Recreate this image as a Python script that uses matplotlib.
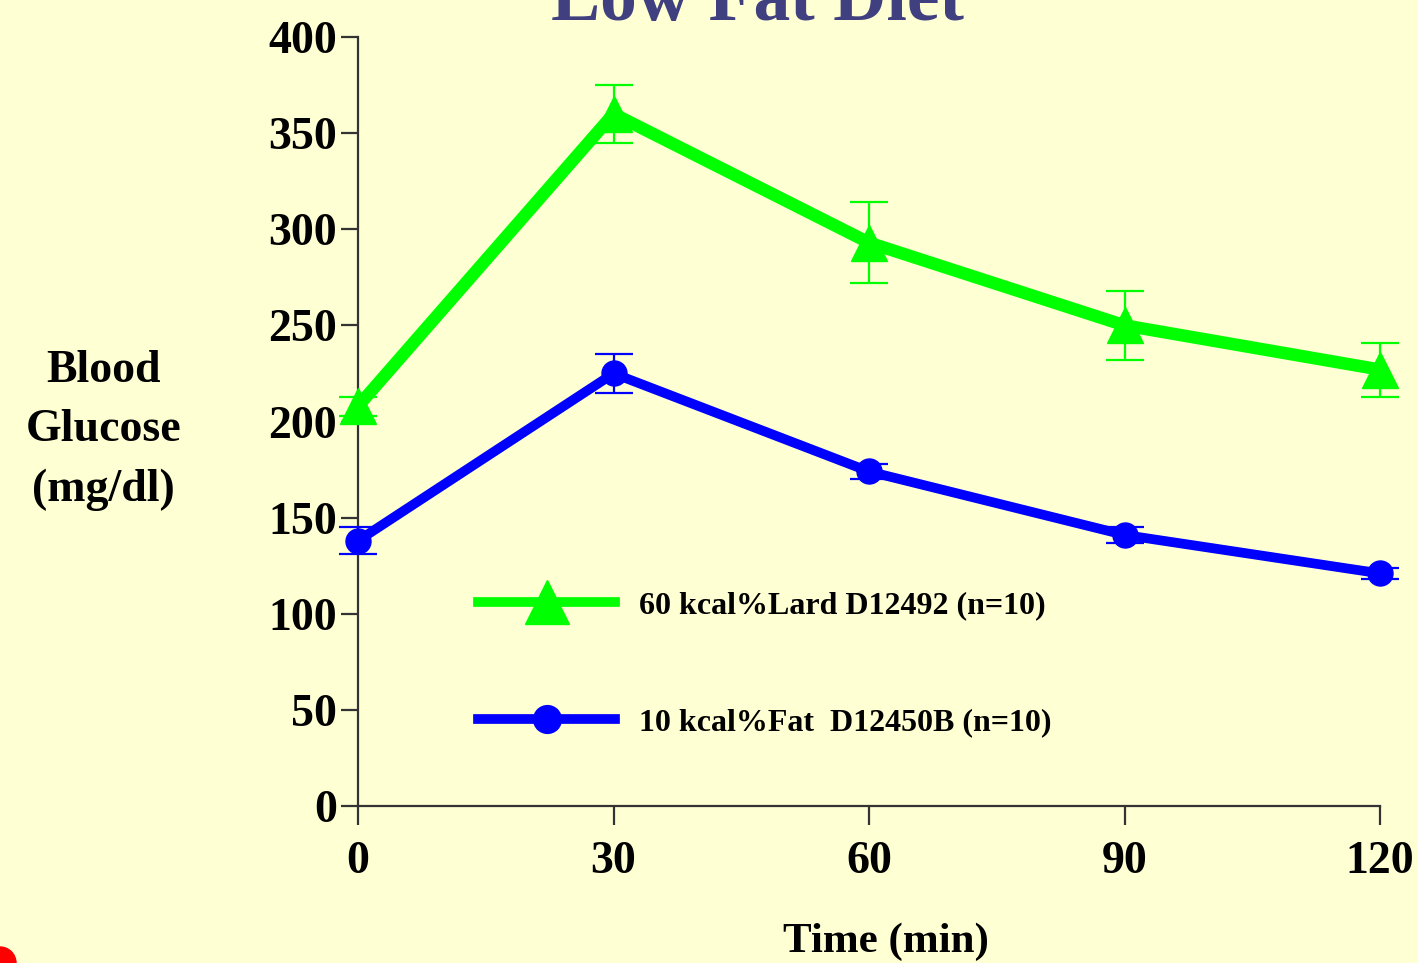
import numpy as np
import matplotlib.pyplot as plt
from matplotlib.patches import Circle
from matplotlib.lines import Line2D

time_min = [0, 30, 60, 90, 120]

lard_mean = [208, 360, 293, 250, 227]
lard_err = [5, 15, 21, 18, 14]
lard_label = '60 kcal%Lard D12492 (n=10)'

fat_mean = [138, 225, 174, 141, 121]
fat_err = [7, 10, 4, 4, 3]
fat_label = '10 kcal%Fat  D12450B (n=10)'

x_ticks = [0, 30, 60, 90, 120]
y_ticks = [0, 50, 100, 150, 200, 250, 300, 350, 400]

bg = '#FFFFD4'
green = '#00FF00'
blue = '#0000FF'
plt.rcParams['font.family'] = 'Liberation Serif'
plt.rcParams['font.weight'] = 'bold'

fig = plt.figure(figsize=(14.18, 9.63), dpi=100, facecolor=bg)
ax = fig.add_axes([0.2525, 0.163, 0.7207, 0.7986])
ax.set_facecolor(bg)

ax.errorbar(time_min, fat_mean, yerr=fat_err, color=blue, lw=7,
            marker='o', ms=18, elinewidth=1.6, capsize=14, capthick=1.6,
            clip_on=False, zorder=3)
ax.errorbar(time_min, lard_mean, yerr=lard_err, color=green, lw=9,
            marker='^', ms=26, elinewidth=1.6, capsize=14, capthick=1.6,
            clip_on=False, zorder=4)

ax.set_xlim(0, 120)
ax.set_ylim(0, 400)
ax.set_xticks(x_ticks)
ax.set_yticks(y_ticks)
for s in ['top', 'right']:
    ax.spines[s].set_visible(False)
for s in ['left', 'bottom']:
    ax.spines[s].set_color('#333333')
    ax.spines[s].set_linewidth(1.6)
ax.tick_params(axis='y', direction='out', length=12, width=1.6, color='#333333',
               labelsize=33, pad=3)
ax.tick_params(axis='x', direction='out', length=13.5, width=1.6, color='#333333',
               labelsize=33, pad=12)
for lab in ax.get_xticklabels() + ax.get_yticklabels():
    lab.set_fontweight('bold')

# legend handles without error bars, like the original
h_lard = Line2D([], [], color=green, lw=7, marker='^', ms=32)
h_fat = Line2D([], [], color=blue, lw=7, marker='o', ms=20)
leg = ax.legend([h_lard, h_fat], [lard_label, fat_label], loc='upper left',
                bbox_to_anchor=(0.105, 0.297), frameon=False, fontsize=23,
                handlelength=4.3, handletextpad=0.75, labelspacing=2.75,
                numpoints=1, borderaxespad=0)
for t in leg.get_texts():
    t.set_fontweight('bold')

fig.text(0.534, 0.979, 'Low Fat Diet', ha='center', va='baseline',
         fontsize=53, fontweight='bold', color='#404080')
fig.text(0.073, 0.553, 'Blood\nGlucose\n(mg/dl)', ha='center', va='center',
         fontsize=33, fontweight='bold', linespacing=1.55)
fig.text(0.625, 0.022, 'Time (min)', ha='center', va='center',
         fontsize=31, fontweight='bold')

fig.patches.append(Circle((0, 0), 0.16, transform=fig.dpi_scale_trans,
                          color='red', zorder=10))

fig.savefig('out.png', dpi=100, facecolor=bg)
